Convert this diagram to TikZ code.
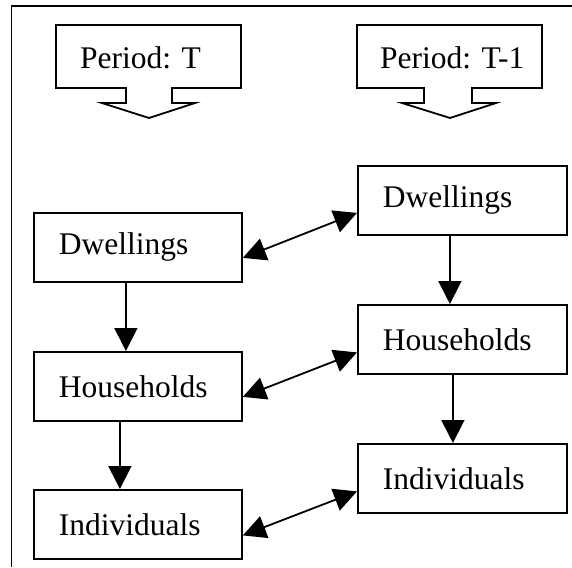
\documentclass[tikz,border=0pt]{standalone}
\usepackage{fontspec}
\setmainfont{Liberation Serif}
\usetikzlibrary{arrows.meta}
\newcommand{\bodyfont}{\fontsize{31.5}{36}\selectfont}
\tikzset{
  box/.style={draw, line width=1.8pt, minimum height=69pt, anchor=north west,
    inner xsep=25pt, inner ysep=0pt, align=left, font=\bodyfont},
  lbox/.style={box, text width=158pt},
  rbox/.style={box, text width=159pt},
  callout/.style={draw, line width=1.8pt, line join=miter},
  calltext/.style={anchor=base west, inner sep=0pt, font=\bodyfont},
  arr/.style={line width=1.8pt, -{Triangle[length=23pt,width=23pt]}},
  darr/.style={line width=1.8pt, {Triangle[length=23pt,width=23pt]}-{Triangle[length=23pt,width=23pt]}},
  frame/.style={line width=1.8pt}
}
\begin{document}
\begin{tikzpicture}[x=1pt,y=-1pt]
\useasboundingbox (0,0) rectangle (572,567);
% outer frame (cut off at right and bottom)
\coordinate (fb) at (11.5,567);
\coordinate (ftl) at (11.5,6);
\coordinate (fr) at (572,6);
\draw[frame] (fb) -- (ftl) -- (fr);
% period callouts
\draw[callout] (56,25) -- (241,25) -- (241,88) -- (172,88) -- (172,103) -- (195,103)
  -- (149,118) -- (102,103) -- (126,103) -- (126,88) -- (56,88) -- cycle;
\node[calltext] (pt) at (80,69) {Period: T};
\draw[callout] (357,25) -- (542,25) -- (542,88) -- (472,88) -- (472,103) -- (496,103)
  -- (450,118) -- (402,103) -- (424,103) -- (424,88) -- (357,88) -- cycle;
\node[calltext] (pt1) at (380,69) {Period: T-1};
% left column (period T)
\node[lbox] (ld) at (33,212) {Dwellings};
\node[lbox] (lh) at (33,351) {Households};
\node[lbox] (li) at (33,489) {Individuals};
% right column (period T-1)
\node[rbox] (rd) at (357,165) {Dwellings};
\node[rbox] (rh) at (357,304) {Households};
\node[rbox] (ri) at (357,443) {Individuals};
% vertical arrows
\draw[arr] ([xshift=-12pt]ld.south) -- ([xshift=-12pt]lh.north);
\draw[arr] ([xshift=-18pt]lh.south) -- ([xshift=-18pt]li.north);
\draw[arr] ([xshift=-12.5pt]rd.south) -- ([xshift=-12.5pt]rh.north);
\draw[arr] ([xshift=-9.5pt]rh.south) -- ([xshift=-9.5pt]ri.north);
% links between periods
\draw[darr] ([yshift=-10.5pt]ld.east) -- ([yshift=-12.5pt]rd.west);
\draw[darr] ([yshift=-10.5pt]lh.east) -- ([yshift=-13pt]rh.west);
\draw[darr] ([yshift=-11pt]li.east) -- ([yshift=-13pt]ri.west);
\end{tikzpicture}
\end{document}
